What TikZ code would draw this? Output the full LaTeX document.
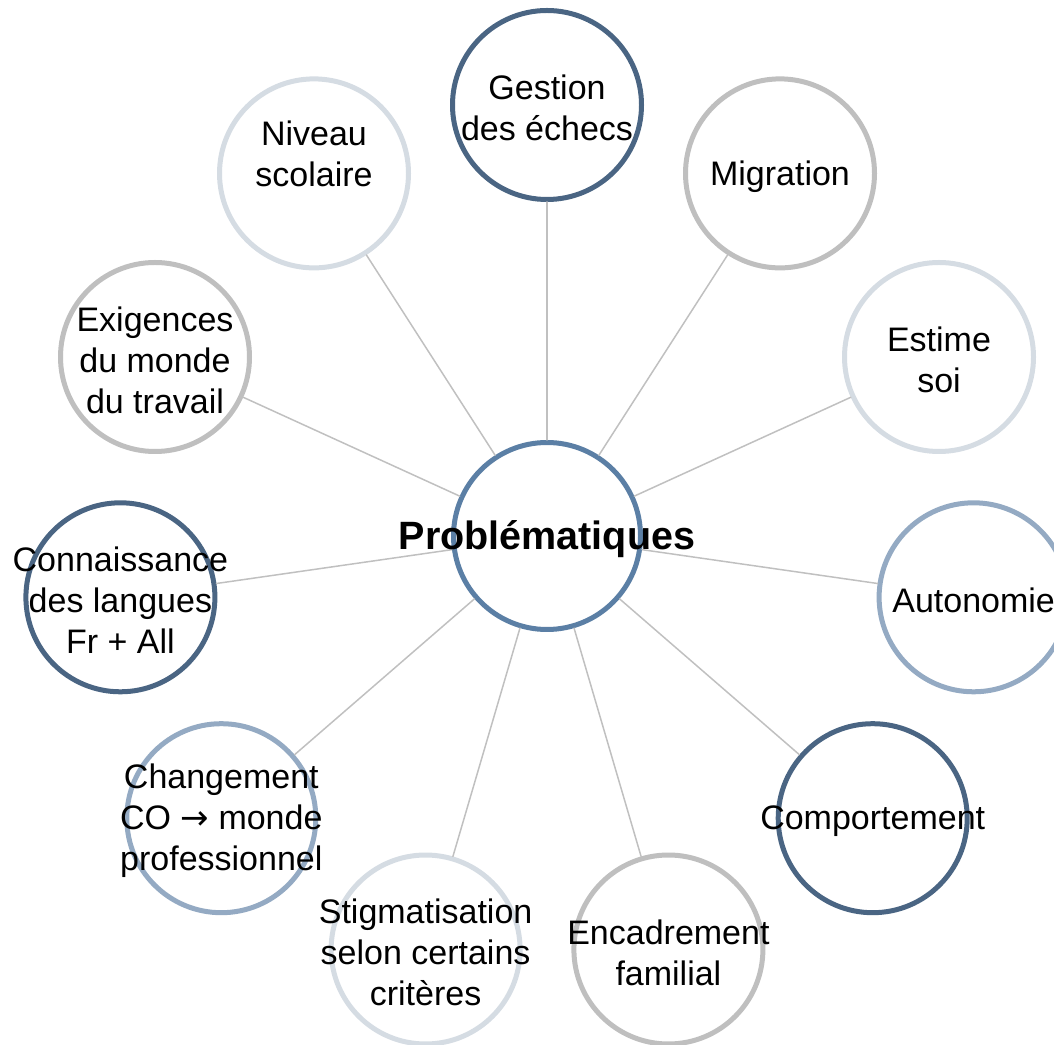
\documentclass[tikz,border=0pt]{standalone}
\usepackage{fontspec}
\setmainfont{Liberation Sans}
\newfontfamily\arrowfont{DejaVu Sans}
\definecolor{shadeblue}{HTML}{4A6583}
\definecolor{midblue}{HTML}{5B7FA5}
\definecolor{paleblue}{HTML}{94AAC3}
\definecolor{midgray}{HTML}{BFBFBF}
\definecolor{palegray}{HTML}{D5DCE3}
\definecolor{spokegray}{HTML}{C0C0C0}
\begin{document}
\begin{tikzpicture}[line cap=round,line join=round,x=1pt,y=1pt,
	bubble/.style={circle,draw,fill=white,line width=5pt,minimum size=189pt,inner sep=0pt},
	hub/.style={bubble,draw=midblue,minimum size=187pt},
	words/.style={align=center,inner sep=0pt,yshift=-3pt,font=\fontsize{34}{41}\selectfont},
	spoke/.style={line width=1.5pt,color=spokegray}]
			\useasboundingbox (0,0) rectangle (1054,1044);
			\clip (0,0) rectangle (1054,1044);
			\node[hub] (centre) at (547,508) {};
			\node[bubble,draw=shadeblue] (gestion) at (547,939) {};
			\node[bubble,draw=midgray] (migration) at (780,870.6) {};
			\node[bubble,draw=palegray] (estime) at (939,687) {};
			\node[bubble,draw=paleblue] (autonomie) at (973.6,446.7) {};
			\node[bubble,draw=shadeblue] (comportement) at (872.7,225.8) {};
			\node[bubble,draw=midgray] (encadrement) at (668.4,94.5) {};
			\node[bubble,draw=palegray] (stigma) at (425.6,94.5) {};
			\node[bubble,draw=paleblue] (changement) at (221.3,225.8) {};
			\node[bubble,draw=shadeblue] (langues) at (120.4,446.7) {};
			\node[bubble,draw=midgray] (exigences) at (155,687) {};
			\node[bubble,draw=palegray] (niveau) at (314,870.6) {};
			\draw [spoke] (centre)-- (gestion);
			\draw [spoke] (centre)-- (migration);
			\draw [spoke] (centre)-- (estime);
			\draw [spoke] (centre)-- (autonomie);
			\draw [spoke] (centre)-- (comportement);
			\draw [spoke] (centre)-- (encadrement);
			\draw [spoke] (centre)-- (stigma);
			\draw [spoke] (centre)-- (changement);
			\draw [spoke] (centre)-- (langues);
			\draw [spoke] (centre)-- (exigences);
			\draw [spoke] (centre)-- (niveau);
			\node[words,font=\bfseries\fontsize{39.5}{47}\selectfont] at (centre) {Problématiques};
			\node[words] at (gestion) {Gestion\\des échecs};
			\node[words] at (migration) {Migration};
			\node[words] at (estime) {Estime\\soi};
			\node[words] at (autonomie) {Autonomie};
			\node[words] at (comportement) {Comportement};
			\node[words] at (encadrement) {Encadrement\\familial};
			\node[words] at (stigma) {Stigmatisation\\selon certains\\critères};
			\node[words] at (changement) {Changement\\CO {\arrowfont →} monde\\professionnel};
			\node[words] at (langues) {Connaissance\\des langues\\Fr + All};
			\node[words] at (exigences) {Exigences\\du monde\\du travail};
			\node[words,yshift=23pt] at (niveau) {Niveau\\scolaire};
		\end{tikzpicture}
\end{document}
